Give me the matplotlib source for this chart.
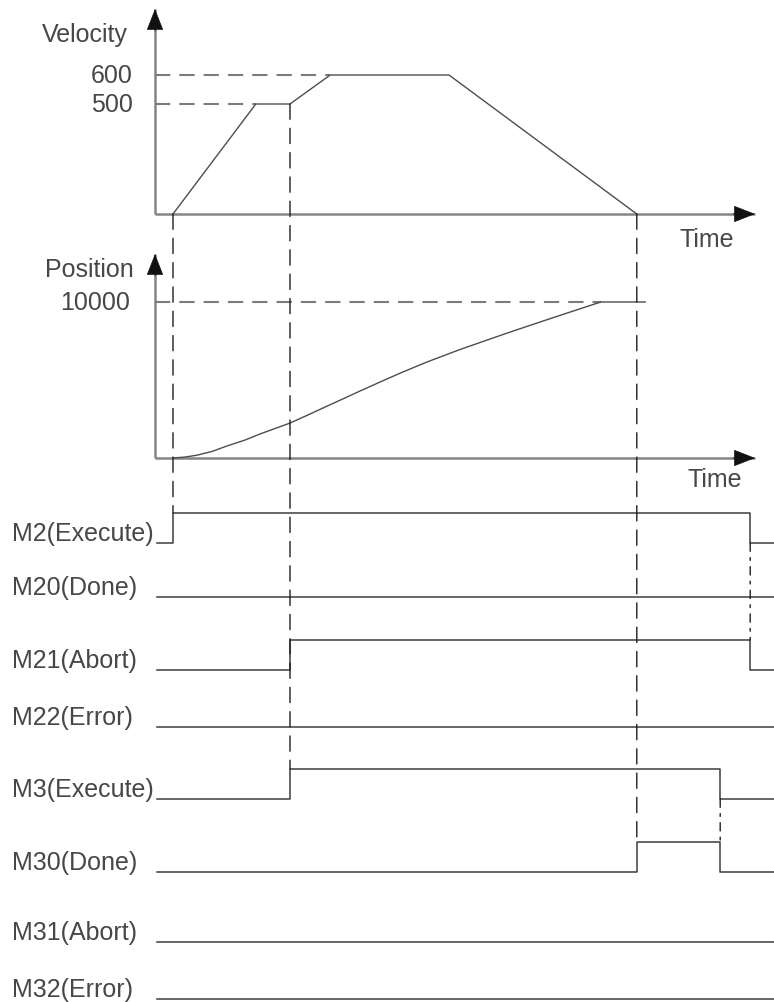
import numpy as np
import matplotlib
matplotlib.use('Agg')
import matplotlib.pyplot as plt
from matplotlib.patches import ConnectionPatch
from matplotlib.transforms import blended_transform_factory

plt.rcParams['font.family'] = ['Liberation Sans', 'DejaVu Sans']
plt.rcParams['lines.scale_dashes'] = False

# ---- data (time in arbitrary units, 0 = origin of the time axes) ----
VEL_T = [3.0, 16.8, 22.5, 29.2, 49.0, 80.3]
VEL_V = [0, 500, 500, 600, 600, 0]
VEL_TICKS = [600, 500]

POS_T = [3.0, 5.0, 7.0, 9.5, 12.0, 15.0, 17.5, 20.0, 22.5, 25.5, 28.7,
         31.5, 34.2, 37.5, 40.8, 45.3, 50.8, 58.7, 64.2, 69.7, 74.3, 81.7]
POS_P = [0, 60, 180, 420, 770, 1150, 1540, 1890, 2240, 2760, 3330,
         3820, 4300, 4870, 5430, 6150, 6950, 8010, 8720, 9420, 10000, 10000]
POS_TICKS = [10000]

SIG_NAMES = ['M2(Execute)', 'M20(Done)', 'M21(Abort)', 'M22(Error)',
             'M3(Execute)', 'M30(Done)', 'M31(Abort)', 'M32(Error)']
SIG_START = 0.3
SIG_EDGES = [[3.0, 99.2], [], [22.5, 99.2], [], [22.5, 94.2], [80.3, 94.2], [], []]
SIG_STATES = [[0, 1, 0], [0], [0, 1, 0], [0], [0, 1, 0], [0, 1, 0], [0], [0]]

T_END = 100.0

# ---- layout (pixels) ----
W, H, DPI = 774, 1003, 100
PX_PER_T = 6.0
X0 = 155
ROW_BASE = [544, 598, 671, 728, 800, 873, 943, 1000]
ROW_AMP = 30
V_KNOTS = [0, 500, 600, 800]
V_PX = [0, 110, 139, 205]

AXIS_C = '#858585'
LINE_C = '#4d4d4d'
SIG_C = '#3d3d3d'
VDASH_C = '#1e1e1e'
HDASH_C = '#7c7c7c'
TEXT_C = '#474747'
FS = 18

fig = plt.figure(figsize=(W / DPI, H / DPI), dpi=DPI)
xlim = (-X0 / PX_PER_T, (W - X0) / PX_PER_T)


def px_axes(top, bottom):
    ax = fig.add_axes([0, 1 - bottom / H, 1, (bottom - top) / H])
    ax.set_xlim(*xlim)
    ax.axis('off')
    return ax


def fig_text(x, y, s, **kw):
    fig.text(x / W, 1 - y / H, s, fontsize=FS, color=TEXT_C, **kw)


def draw_axes(ax, ytop):
    ax.plot([0, 0], [0, ytop], color=AXIS_C, lw=1.8, solid_capstyle='butt', clip_on=False)
    ax.plot([0, T_END], [0, 0], color=AXIS_C, lw=1.8, solid_capstyle='butt', clip_on=False)
    head = dict(arrowstyle='-|>,head_length=14,head_width=5.5', color='#111111',
                lw=0.5, mutation_scale=1, shrinkA=0, shrinkB=0)
    ax.annotate('', xy=(0, ytop), xytext=(0, -22), textcoords='offset pixels',
                arrowprops=head, annotation_clip=False)
    ax.annotate('', xy=(T_END, 0), xytext=(-22, 0), textcoords='offset pixels',
                arrowprops=head, annotation_clip=False)


# velocity
ax_v = px_axes(10, 215)
ax_v.set_yscale('function', functions=(lambda v: np.interp(v, V_KNOTS, V_PX),
                                       lambda y: np.interp(y, V_PX, V_KNOTS)))
ax_v.set_ylim(0, V_KNOTS[-1])
draw_axes(ax_v, V_KNOTS[-1])
for v in VEL_TICKS:
    t_reach = VEL_T[VEL_V.index(v)]
    ax_v.plot([0, t_reach], [v, v], color=HDASH_C, lw=1.5,
              linestyle=(0, (11, 6.5)), clip_on=False)
    ax_v.text(133 / W, v, str(v), transform=blended_transform_factory(fig.transFigure, ax_v.transData),
              ha='right', va='center', fontsize=FS, color=TEXT_C)
ax_v.plot(VEL_T, VEL_V, color=LINE_C, lw=1.0, clip_on=False)
fig_text(42, 42, 'Velocity', ha='left', va='baseline')
fig_text(680, 247, 'Time', ha='left', va='baseline')

# position
ax_p = px_axes(255, 459)
p_top = POS_TICKS[0] * (459 - 255) / (459 - 303)
ax_p.set_ylim(0, p_top)
draw_axes(ax_p, p_top)
for p in POS_TICKS:
    t_reach = POS_T[POS_P.index(p)]
    ax_p.plot([0, t_reach], [p, p], color=HDASH_C, lw=1.5,
              linestyle=(0, (11, 6.5)), clip_on=False)
    ax_p.text(130 / W, p, str(p), transform=blended_transform_factory(fig.transFigure, ax_p.transData),
              ha='right', va='center', fontsize=FS, color=TEXT_C)
ax_p.plot(POS_T, POS_P, color=LINE_C, lw=1.0, clip_on=False)
fig_text(45, 277, 'Position', ha='left', va='baseline')
fig_text(688, 487, 'Time', ha='left', va='baseline')

# signals
ax_s = px_axes(490, 1003)
ax_s.set_ylim(H, 490)
lab_tr = blended_transform_factory(fig.transFigure, ax_s.transData)


def sig_y(i, state):
    return ROW_BASE[i] - ROW_AMP * state


for i, name in enumerate(SIG_NAMES):
    xs = [SIG_START] + SIG_EDGES[i] + [xlim[1]]
    ys = [sig_y(i, s) for s in SIG_STATES[i]]
    ys = ys + [ys[-1]]
    ax_s.step(xs, ys, where='post', color=SIG_C, lw=1.1, clip_on=False)
    ax_s.text(12 / W, ROW_BASE[i] - 3, name, transform=lab_tr,
              ha='left', va='baseline', fontsize=FS, color=TEXT_C)


def connect(axA, ptA, axB, ptB, ls):
    con = ConnectionPatch(xyA=ptA, coordsA=axA.transData, xyB=ptB, coordsB=axB.transData,
                          color=VDASH_C, lw=1.0, linestyle=ls, zorder=5)
    fig.add_artist(con)


dash = (0, (11, 6.5))
dashdot = (0, (6, 4.5, 2, 4.5))
# motion start -> M2 rising
connect(ax_v, (VEL_T[0], VEL_V[0]), ax_s, (SIG_EDGES[0][0], sig_y(0, 1)), dash)
# second command -> M3 rising
connect(ax_v, (VEL_T[2], VEL_V[2]), ax_s, (SIG_EDGES[4][0], sig_y(4, 1)), dash)
# motion end -> M30 rising
connect(ax_v, (VEL_T[-1], VEL_V[-1]), ax_s, (SIG_EDGES[5][0], sig_y(5, 1)), dash)
# M2 falling -> M21 falling
connect(ax_s, (SIG_EDGES[0][1], sig_y(0, 0)), ax_s, (SIG_EDGES[2][1], sig_y(2, 1)), dashdot)
# M3 falling -> M30 falling
connect(ax_s, (SIG_EDGES[4][1], sig_y(4, 0)), ax_s, (SIG_EDGES[5][1], sig_y(5, 1)), dashdot)

fig.savefig('out.png', dpi=DPI, facecolor='white')
